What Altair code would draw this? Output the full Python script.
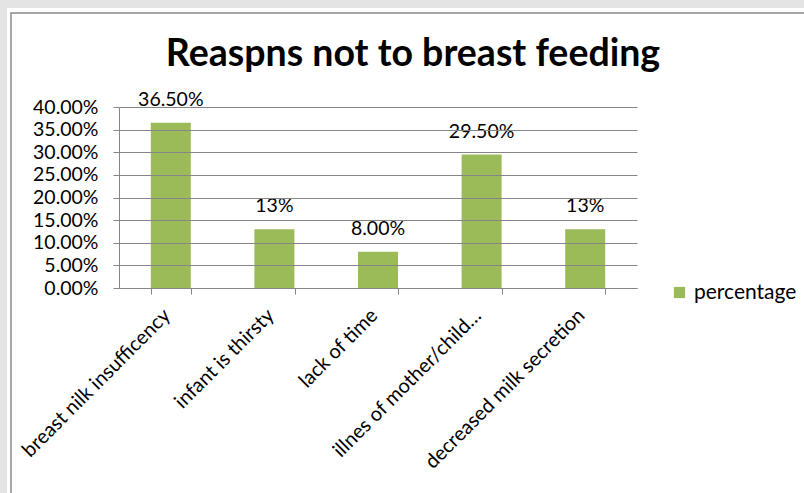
import altair as alt
import pandas as pd

categories = ["breast nilk insufficency", "infant is thirsty", "lack of time",
              "illnes of mother/child\u2026", "decreased milk secretion"]
values = [0.365, 0.13, 0.08, 0.295, 0.13]
value_labels = ["36.50%", "13%", "8.00%", "29.50%", "13%"]
series = ["percentage"] * 5
y_ticks = [0, 0.05, 0.10, 0.15, 0.20, 0.25, 0.30, 0.35, 0.40]
title_text = ["Reaspns not to breast feeding"]

df = pd.DataFrame({"cat": categories, "val": values, "lab": value_labels, "series": series})

FONT = "Lato"
PX, PY = 119, 107
W, H = 518, 181

x_enc = alt.X("cat:N", sort=categories, title=None,
              scale=alt.Scale(paddingInner=0.61, paddingOuter=0.305),
              axis=alt.Axis(labelAngle=-45, labelAlign="right", labelBaseline="top",
                            labelFont=FONT, labelFontSize=20, labelColor="#000000",
                            labelPadding=11, labelOffset=-11, labelLimit=400,
                            tickBand="extent", tickColor="#868686", tickSize=6,
                            domainColor="#868686", grid=False, zindex=1))
y_enc = alt.Y("val:Q", title=None,
              scale=alt.Scale(domain=[0, 0.4], nice=False),
              axis=alt.Axis(values=y_ticks, tickCount=9, format=".2%", labelFont=FONT,
                            labelFontSize=19.5, labelColor="#000000", labelPadding=15,
                            labelOverlap=False, labelSeparation=0, labelBaseline="middle",
                            tickColor="#868686", tickSize=6, domainColor="#868686",
                            gridColor="#868686", gridWidth=1, grid=True, zindex=1))

bg_white = alt.Chart(pd.DataFrame({"a": [0]})).mark_rect(fill="#ffffff").encode(
    x=alt.value(7 - PX), x2=alt.value(804 - PX + 5), y=alt.value(8 - PY), y2=alt.value(493 - PY + 5))
frame = alt.Chart(pd.DataFrame({"a": [0]})).mark_rect(fill="#ffffff", stroke="#8c8c8c", strokeWidth=1.5).encode(
    x=alt.value(11 - PX), x2=alt.value(804 - PX + 20), y=alt.value(13 - PY), y2=alt.value(493 - PY + 20))

title = alt.Chart(pd.DataFrame({"t": title_text})).mark_text(
    font=FONT, fontSize=37.5, fontWeight="bold", color="#000000", align="center",
    baseline="alphabetic"
).encode(x=alt.value(413 - PX), y=alt.value(66 - PY), text="t:N")

bars = alt.Chart(df).mark_bar(size=40).encode(
    x=x_enc, y=y_enc,
    color=alt.Color("series:N", title=None,
                    scale=alt.Scale(domain=["percentage"], range=["#9BBB59"]),
                    legend=alt.Legend(orient="none", legendX=550, legendY=175,
                                      symbolType="square", symbolSize=125,
                                      symbolStrokeWidth=0, labelFont=FONT,
                                      labelFontSize=21, labelColor="#000000",
                                      labelOffset=4, zindex=1)))

texts = alt.Chart(df).mark_text(baseline="alphabetic", dy=-17, font=FONT, fontSize=19.5,
                                color="#000000").encode(
    x=alt.X("cat:N", sort=categories), y="val:Q", text="lab:N")

chart = alt.layer(bg_white, frame, title, bars, texts).properties(
    width=W, height=H,
    autosize=alt.AutoSizeParams(type="none"),
    padding={"left": PX, "top": PY, "right": 804 - PX - W, "bottom": 493 - PY - H},
    background="#e4e4e4",
).configure_view(stroke=None, clip=False)

chart.save("out.html", embed_options={"renderer": "svg", "actions": False})
